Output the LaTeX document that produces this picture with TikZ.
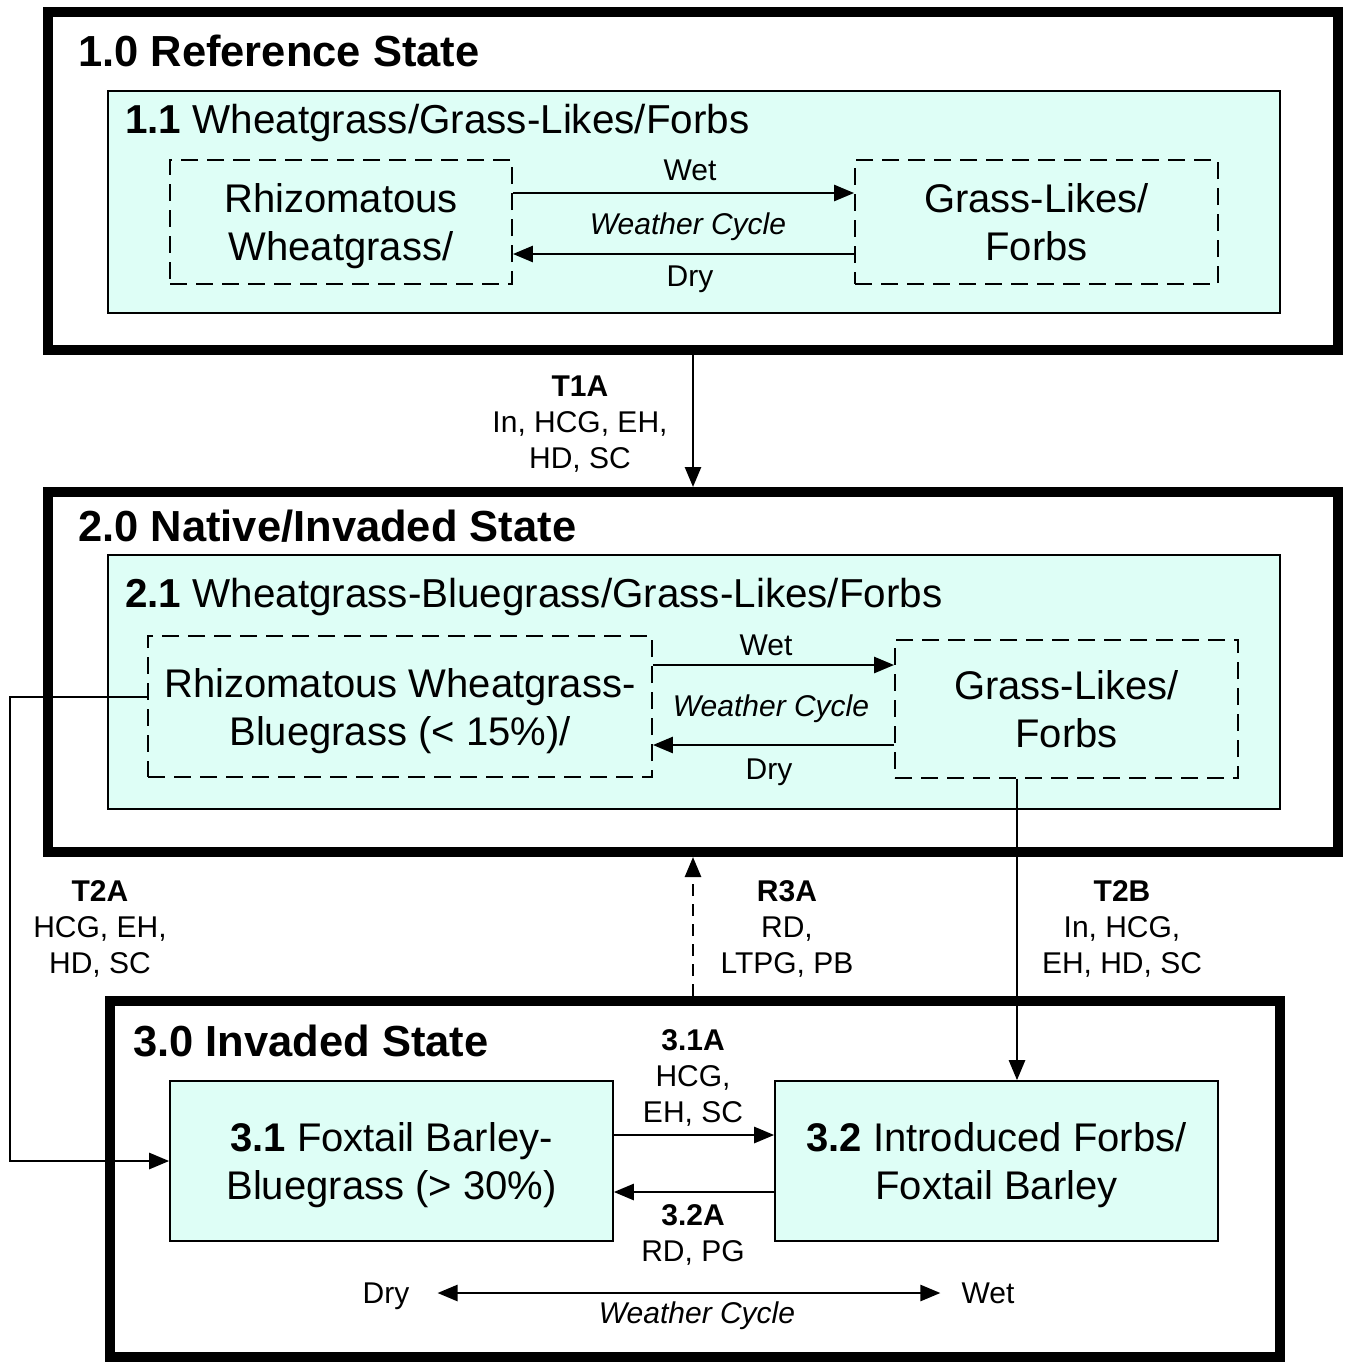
\documentclass[tikz,border=0pt]{standalone}
\usepackage{fontspec}
\setmainfont{Liberation Sans}
\usetikzlibrary{arrows.meta}
\definecolor{mint}{RGB}{222,254,246}

\tikzset{
    statebox/.style={draw, line width=10pt, inner sep=0},
    phasebox/.style={draw, line width=1.6pt, fill=mint, inner sep=0},
    plantbox/.style={draw, line width=1.8pt, dash pattern=on 17pt off 9pt, inner sep=0,
        align=center, text depth=0pt, font=\fontsize{40}{48}\selectfont},
    ttl/.style={anchor=west, inner sep=0, font=\fontsize{43.5}{48}\selectfont\bfseries},
    sub/.style={anchor=west, inner sep=0, font=\fontsize{40.4}{48}\selectfont},
    lbl/.style={align=center, inner sep=0, text depth=0pt, font=\fontsize{30}{36}\selectfont},
    trans/.style={-{Triangle[length=20pt,width=16pt]}, line width=2.6pt},
}

\begin{document}
\begin{tikzpicture}[x=1pt, y=-1pt]
    \useasboundingbox (0,0) rectangle (1345,1363);
    % state boxes
    \node[statebox, minimum width=1290pt, minimum height=338pt] (s1) at (693,181) {};
    \node[statebox, minimum width=1290pt, minimum height=360pt] (s2) at (693,672) {};
    \node[statebox, minimum width=1170pt, minimum height=356pt] (s3) at (695,1179) {};
    \node[ttl] (t1) at (78,51) {1.0 Reference State};
    \node[ttl] (t2) at (78,526) {2.0 Native/Invaded State};
    \node[ttl] (t3) at (133,1041) {3.0 Invaded State};
    % community phases
    \node[phasebox, minimum width=1172pt, minimum height=222pt] (p11) at (694,202) {};
    \node[phasebox, minimum width=1172pt, minimum height=254pt] (p21) at (694,682) {};
    \node[sub] (h11) at (125,123) {\textbf{1.1} Wheatgrass/Grass-Likes/Forbs};
    \node[sub] (h21) at (125,597) {\textbf{2.1} Wheatgrass-Bluegrass/Grass-Likes/Forbs};
    \node[phasebox, align=center, text depth=0pt, font=\fontsize{40}{48}\selectfont,
        minimum width=443pt, minimum height=160pt] (b31) at (391.5,1161)
        {\textbf{3.1} Foxtail Barley-\\Bluegrass (> 30\%)};
    \node[phasebox, align=center, text depth=0pt, font=\fontsize{40}{48}\selectfont,
        minimum width=443pt, minimum height=160pt] (b32) at (996.5,1161)
        {\textbf{3.2} Introduced Forbs/\\Foxtail Barley};
    % plant groups
    \node[plantbox, minimum width=342pt, minimum height=124pt] (d1a) at (341,222) {Rhizomatous\\Wheatgrass/};
    \node[plantbox, minimum width=363pt, minimum height=124pt] (d1b) at (1036.5,222) {Grass-Likes/\\Forbs};
    \node[plantbox, minimum width=504pt, minimum height=141pt] (d2a) at (400,706.5) {Rhizomatous Wheatgrass-\\Bluegrass (< 15\%)/};
    \node[plantbox, minimum width=343pt, minimum height=138pt] (d2b) at (1066.5,709) {Grass-Likes/\\Forbs};
    % weather cycles
    \draw[trans] (d1a.east |- 0,193) -- (d1b.west |- 0,193);
    \draw[trans] (d1b.west |- 0,254) -- (d1a.east |- 0,254);
    \node[lbl] (w1) at (690,170) {Wet};
    \node[lbl] (c1) at (688,224) {\itshape Weather Cycle};
    \node[lbl] (r1) at (690,276) {Dry};
    \draw[trans] (d2a.east |- 0,665) -- (d2b.west |- 0,665);
    \draw[trans] (d2b.west |- 0,745) -- (d2a.east |- 0,745);
    \node[lbl] (w2) at (766,645) {Wet};
    \node[lbl] (c2) at (771,706) {\itshape Weather Cycle};
    \node[lbl] (r2) at (769,769) {Dry};
    % transitions
    \draw[trans] (s1.south) -- (s2.north);
    \node[lbl] (l1a) at (580,422) {\textbf{T1A}\\In, HCG, EH,\\HD, SC};
    \coordinate (t2aturn) at (10,697);
    \draw[trans] (d2a.west |- t2aturn) -- (t2aturn) |- (b31.west);
    \node[lbl] (l2a) at (100,927) {\textbf{T2A}\\HCG, EH,\\HD, SC};
    \draw[trans, dash pattern=on 12pt off 8pt] (s2.south |- s3.north) -- (s2.south);
    \node[lbl] (l3a) at (787,927) {\textbf{R3A}\\RD,\\LTPG, PB};
    \coordinate (t2bx) at (1017,0);
    \draw[trans] (t2bx |- d2b.south) -- (t2bx |- b32.north);
    \node[lbl] (l2b) at (1122,927) {\textbf{T2B}\\In, HCG,\\EH, HD, SC};
    % pathways in state 3
    \draw[trans] (b31.east |- 0,1135) -- (b32.west |- 0,1135);
    \draw[trans] (b32.west |- 0,1192) -- (b31.east |- 0,1192);
    \node[lbl] (p31a) at (693,1076) {\textbf{3.1A}\\HCG,\\EH, SC};
    \node[lbl] (p32a) at (693,1233) {\textbf{3.2A}\\RD, PG};
    \node[lbl] (dry) at (386,1293) {Dry};
    \node[lbl] (wet) at (988,1293) {Wet};
    \draw[{Triangle[length=20pt,width=16pt]}-{Triangle[length=20pt,width=16pt]}, line width=2.6pt,
        shorten <=28pt, shorten >=21pt] (dry.east) -- (wet.west);
    \node[lbl] (c3) at (697,1313) {\itshape Weather Cycle};
\end{tikzpicture}
\end{document}
